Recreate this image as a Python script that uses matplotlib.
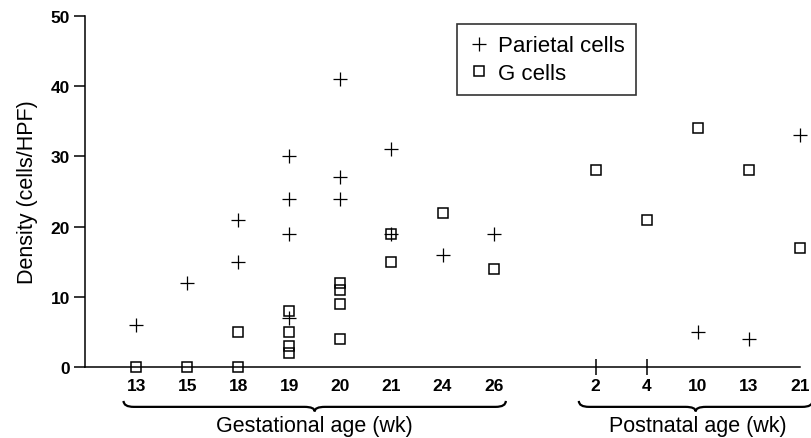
import numpy as np
import matplotlib
matplotlib.use("Agg")
import matplotlib.pyplot as plt
from matplotlib.path import Path
from matplotlib.patches import PathPatch
import matplotlib.transforms as mtransforms

plt.rcParams['font.family'] = ['Liberation Sans', 'DejaVu Sans']

# categories (x axis)
gest_weeks = ['13', '15', '18', '19', '20', '21', '24', '26']
post_weeks = ['2', '4', '10', '13', '21']

# parietal cells: (week label, density)
parietal_gest = [('13', 6), ('15', 12), ('18', 21), ('18', 15),
                 ('19', 30), ('19', 24), ('19', 19), ('19', 7),
                 ('20', 41), ('20', 27), ('20', 24),
                 ('21', 31), ('21', 19), ('24', 16), ('26', 19)]
parietal_post = [('10', 5), ('13', 4), ('21', 33)]

# G cells
g_gest = [('13', 0), ('15', 0), ('18', 5), ('18', 0),
          ('19', 8), ('19', 5), ('19', 3), ('19', 2),
          ('20', 12), ('20', 11), ('20', 9), ('20', 4),
          ('21', 19), ('21', 15), ('24', 22), ('26', 14)]
g_post = [('2', 28), ('4', 21), ('10', 34), ('13', 28), ('21', 17)]

# positions: gestational at 0..7, one slot gap, postnatal after
gest_pos = {w: i for i, w in enumerate(gest_weeks)}
post_pos = {w: len(gest_weeks) + 1 + i for i, w in enumerate(post_weeks)}


def to_xy(points, pos):
    x = np.array([pos[w] for w, v in points], dtype=float)
    y = np.array([v for w, v in points], dtype=float)
    return x, y


fig = plt.figure(figsize=(8.12, 4.39), dpi=100)
ax = fig.add_axes([0.105, 0.162, 0.880, 0.799])

px, py = to_xy(parietal_gest, gest_pos)
px2, py2 = to_xy(parietal_post, post_pos)
gx, gy = to_xy(g_gest, gest_pos)
gx2, gy2 = to_xy(g_post, post_pos)

ax.plot(np.r_[px, px2], np.r_[py, py2], '+', color='black', markersize=9.5,
        markeredgewidth=0.9, linestyle='none', label='Parietal cells', clip_on=False)
ax.plot(np.r_[gx, gx2], np.r_[gy, gy2], 's', markerfacecolor='none',
        markeredgecolor='black', markersize=7, markeredgewidth=1.1,
        linestyle='none', label='G cells', clip_on=False)

ax.set_xlim(-1, len(gest_weeks) + len(post_weeks))
ax.set_ylim(0, 50)
ax.set_yticks([0, 10, 20, 30, 40, 50])

xt = list(gest_pos.values()) + list(post_pos.values())
ax.set_xticks(xt)
ax.set_xticklabels(gest_weeks + post_weeks)

for s in ['top', 'right']:
    ax.spines[s].set_visible(False)
for s in ['left', 'bottom']:
    ax.spines[s].set_linewidth(1.1)

ax.tick_params(axis='y', direction='out', length=8, width=1.1, labelsize=12.5, pad=3)
ax.tick_params(axis='x', direction='inout', length=12, width=1.1, labelsize=12.5, pad=2)
for lab in ax.get_xticklabels() + ax.get_yticklabels():
    lab.set_fontweight('bold')

# only the postnatal 2 and 4 ticks show a mark
for i, t in enumerate(ax.xaxis.get_major_ticks()):
    if xt[i] not in (post_pos['2'], post_pos['4']):
        t.tick1line.set_visible(False)

ax.set_ylabel('Density (cells/HPF)', fontsize=15.5, labelpad=9)

leg = ax.legend(loc='upper left', bbox_to_anchor=(0.52, 0.977), frameon=True,
                fancybox=False, edgecolor='black', fontsize=16,
                handletextpad=0.35, borderpad=0.5, labelspacing=0.3,
                handlelength=1.0, borderaxespad=0)
leg.get_frame().set_linewidth(1.2)

trans = mtransforms.blended_transform_factory(ax.transData, ax.transAxes)


def brace(x0, x1, y0=-0.097, y1=-0.114, y2=-0.127, r=0.2):
    xm = (x0 + x1) / 2
    verts = [(x0, y0), (x0, y1), (x0 + r, y1),
             (xm - r, y1), (xm, y1), (xm, y2),
             (xm, y1), (xm + r, y1),
             (x1 - r, y1), (x1, y1), (x1, y0)]
    codes = [Path.MOVETO, Path.CURVE3, Path.CURVE3,
             Path.LINETO, Path.CURVE3, Path.CURVE3,
             Path.CURVE3, Path.CURVE3,
             Path.LINETO, Path.CURVE3, Path.CURVE3]
    ax.add_patch(PathPatch(Path(verts, codes), facecolor='none', edgecolor='black',
                           linewidth=1.6, transform=trans, clip_on=False))
    return xm


gm = brace(gest_pos['13'] - 0.25, gest_pos['26'] + 0.24)
pm = brace(post_pos['2'] - 0.33, post_pos['21'] + 0.25)

ax.text(gm, -0.168, 'Gestational age (wk)', transform=trans, ha='center',
        va='center', fontsize=15.5)
ax.text(pm + 0.05, -0.168, 'Postnatal age (wk)', transform=trans, ha='center',
        va='center', fontsize=15.5)

fig.savefig('out.png', dpi=100)
